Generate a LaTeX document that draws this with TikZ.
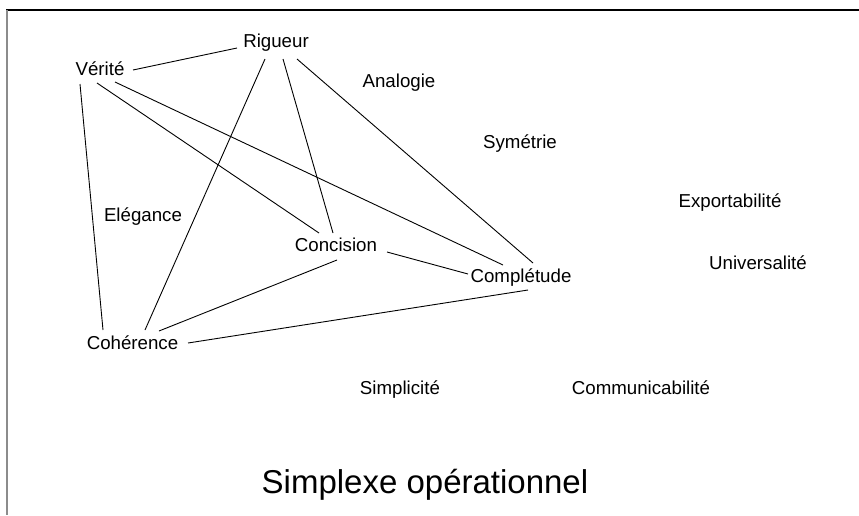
\documentclass[tikz,border=0pt]{standalone}
\usepackage{fontspec}
\setmainfont{Liberation Sans}
\usetikzlibrary{calc}
\tikzset{
  lbl/.style={anchor=base, inner sep=0pt, font=\fontsize{18.7}{22}\selectfont},
  ttl/.style={anchor=base, inner sep=0pt, font=\fontsize{33}{40}\selectfont},
  edge/.style={draw=black, line width=0.9pt},
}
\begin{document}
\begin{tikzpicture}[x=1pt,y=-1pt]
\useasboundingbox (0,0) rectangle (859,515);
\fill[white] (0,0) rectangle (859,515);
% frame
\draw[black, line width=1.2pt] (6,10) -- (859,10);
\draw[gray!90, line width=2pt] (7,10) -- (7,515);
% labels
\node[lbl] (rig) at (276,47) {Rigueur};
\node[lbl] (ver) at (100,75) {Vérité};
\node[lbl] (ana) at (399,87) {Analogie};
\node[lbl] (sym) at (520,148) {Symétrie};
\node[lbl] (exp) at (730,207) {Exportabilité};
\node[lbl] (ele) at (143,221) {Elégance};
\node[lbl] (uni) at (758,269) {Universalité};
\node[lbl] (conc) at (336,251) {Concision};
\node[lbl] (comp) at (521,282) {Complétude};
\node[lbl] (coh) at (132.5,349) {Cohérence};
\node[lbl] (sim) at (400,394) {Simplicité};
\node[lbl] (com) at (641,394) {Communicabilité};
\node[ttl] (title) at (425,493) {Simplexe opérationnel};
% connectors
\draw[edge] ($(ver.base)+(33,-5)$) -- ($(rig.base)+(-39,1)$);
\draw[edge] ($(ver.base)+(-20,9)$) -- ($(coh.base)+(-29.5,-19)$);
\draw[edge] ($(ver.base)+(-3,8)$) -- ($(conc.base)+(-17,-18)$);
\draw[edge] ($(ver.base)+(15,7)$) -- ($(comp.base)+(-18,-17)$);
\draw[edge] ($(rig.base)+(-11,12)$) -- ($(coh.base)+(12.5,-19)$);
\draw[edge] ($(rig.base)+(7,12)$) -- ($(conc.base)+(-3,-18)$);
\draw[edge] ($(rig.base)+(21,12)$) -- ($(comp.base)+(12,-19)$);
\draw[edge] ($(conc.base)+(51,1)$) -- ($(comp.base)+(-53,-8)$);
\draw[edge] ($(conc.base)+(1,9)$) -- ($(coh.base)+(26.5,-18)$);
\draw[edge] ($(comp.base)+(7,8)$) -- ($(coh.base)+(55.5,-6)$);
\end{tikzpicture}
\end{document}
